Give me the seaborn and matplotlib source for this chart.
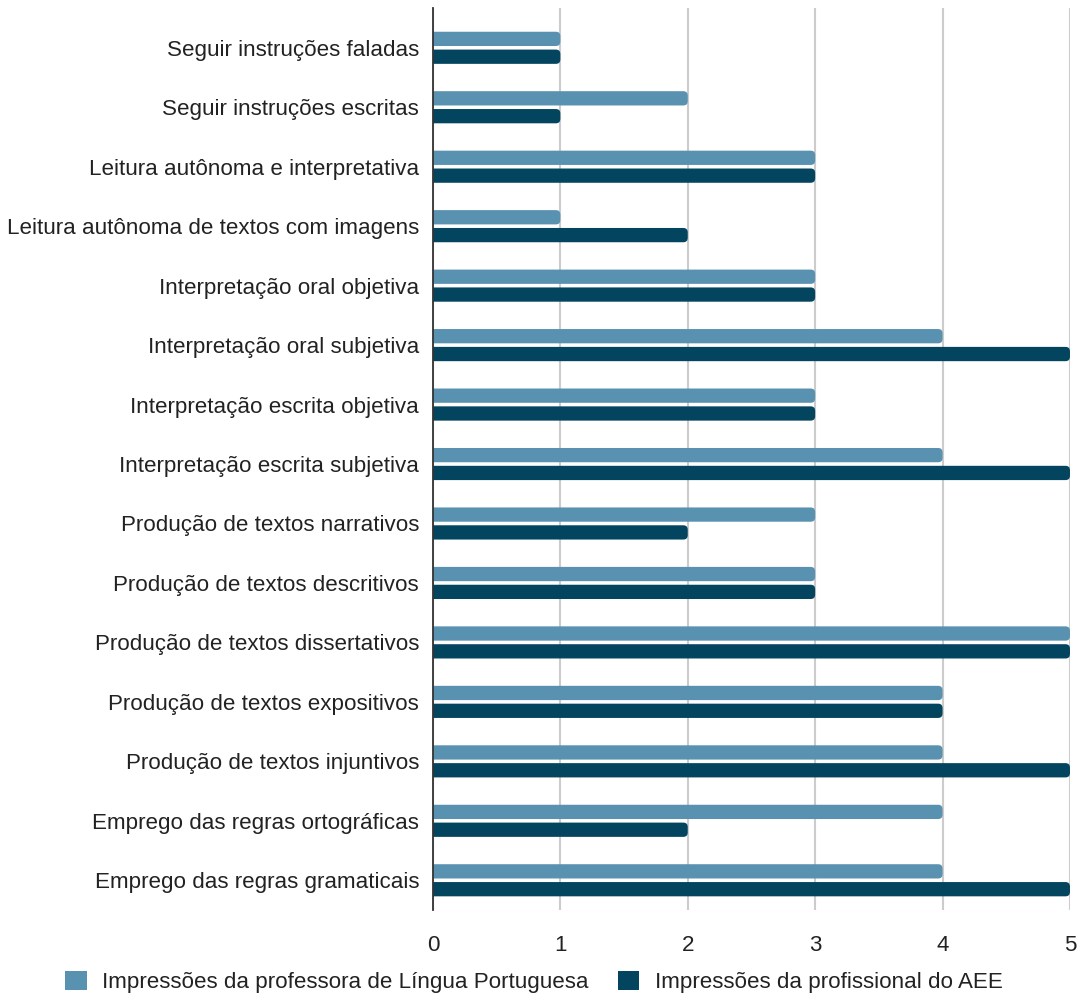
import matplotlib
matplotlib.use("Agg")
import matplotlib.pyplot as plt
from matplotlib.patches import FancyBboxPatch, Patch
import seaborn as sns
import pandas as pd

categories = [
    "Seguir instruções faladas",
    "Seguir instruções escritas",
    "Leitura autônoma e interpretativa",
    "Leitura autônoma de textos com imagens",
    "Interpretação oral objetiva",
    "Interpretação oral subjetiva",
    "Interpretação escrita objetiva",
    "Interpretação escrita subjetiva",
    "Produção de textos narrativos",
    "Produção de textos descritivos",
    "Produção de textos dissertativos",
    "Produção de textos expositivos",
    "Produção de textos injuntivos",
    "Emprego das regras ortográficas",
    "Emprego das regras gramaticais",
]
series_names = [
    "Impressões da professora de Língua Portuguesa",
    "Impressões da profissional do AEE",
]
professora = [1, 2, 3, 1, 3, 4, 3, 4, 3, 3, 5, 4, 4, 4, 4]
aee = [1, 1, 3, 2, 3, 5, 3, 5, 2, 3, 5, 4, 5, 2, 5]
x_ticks = [0, 1, 2, 3, 4, 5]
colors = ["#5991b0", "#03445f"]

df = pd.DataFrame({
    "categoria": categories * 2,
    "serie": [series_names[0]] * len(categories) + [series_names[1]] * len(categories),
    "valor": professora + aee,
})

sns.set_theme(style="white")
plt.rcParams["font.family"] = ["Liberation Sans", "DejaVu Sans"]

fs = 16.1
fig = plt.figure(figsize=(10.81, 9.94), dpi=100)
ax = fig.add_axes([0.4005, 0.0845, 0.5893, 0.9075])

sns.barplot(data=df, y="categoria", x="valor", hue="serie", orient="h",
            palette=colors, saturation=1, width=0.6, gap=0.2, ax=ax,
            legend=False, order=categories, hue_order=series_names)

ax.set_xlim(0, 5)
ax.set_ylim(len(categories) - 0.5, -0.67)

# Rounded bars built from the seaborn patches
r = 0.035
for p in list(ax.patches):
    x0, y0 = p.get_x(), p.get_y()
    w, h = p.get_width(), p.get_height()
    fc = p.get_facecolor()
    p.set_visible(False)
    fb = FancyBboxPatch((x0 - 2 * r, y0), w + 2 * r, h,
                        boxstyle=f"round,pad=0,rounding_size={r}",
                        mutation_aspect=2.15, facecolor=fc, edgecolor="none",
                        clip_on=True, zorder=3)
    ax.add_patch(fb)

ax.set_xticks(x_ticks)
ax.set_xticklabels([str(t) for t in x_ticks], fontsize=fs, color="#222222")
ax.tick_params(axis="y", labelsize=fs, labelcolor="#222222", length=0, pad=10)
ax.tick_params(axis="x", length=0, pad=18)
ax.set_xlabel("")
ax.set_ylabel("")
ax.grid(axis="x", color="#cccccc", linewidth=1.5, zorder=0)
ax.set_axisbelow(True)
for s in ["top", "right", "bottom"]:
    ax.spines[s].set_visible(False)
ax.spines["left"].set_color("#333333")
ax.spines["left"].set_linewidth(1.3)
ax.spines["left"].set_zorder(5)

handles = [Patch(facecolor=c, edgecolor="none") for c in colors]
fig.legend(handles, series_names, loc="center", bbox_to_anchor=(0.494, 0.012),
           ncol=2, frameon=False, fontsize=fs, handlelength=0.95,
           handleheight=0.95, columnspacing=1.3, handletextpad=0.7,
           labelcolor="#222222")

fig.savefig("out.png", dpi=100, facecolor="white")
